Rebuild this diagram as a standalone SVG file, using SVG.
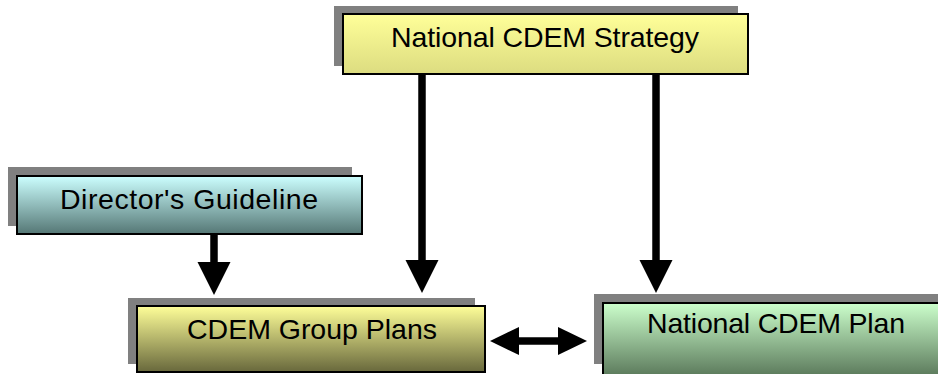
<svg xmlns="http://www.w3.org/2000/svg" width="938" height="374" viewBox="0 0 938 374">
  <style>
    .shadow { fill: #808080; }
    .box { stroke: #000000; stroke-width: 2; }
    .label { font-family: "Liberation Sans", Arial, sans-serif; font-size: 28.5px; fill: #000000; text-anchor: middle; }
    .shaft { stroke: #000000; stroke-width: 7.5; fill: none; }
  </style>
  <defs>
    <linearGradient id="gYellow" x1="0" y1="0" x2="0" y2="1">
      <stop offset="0" stop-color="#FFFF99"/>
      <stop offset="1" stop-color="#DCDC80"/>
    </linearGradient>
    <linearGradient id="gCyan" x1="0" y1="0" x2="0" y2="1">
      <stop offset="0" stop-color="#CCFFFF"/>
      <stop offset="1" stop-color="#557775"/>
    </linearGradient>
    <linearGradient id="gOlive" x1="0" y1="0" x2="0" y2="1">
      <stop offset="0" stop-color="#FFFF99"/>
      <stop offset="1" stop-color="#68683C"/>
    </linearGradient>
    <linearGradient id="gGreen" x1="0" y1="0" x2="0" y2="1">
      <stop offset="0" stop-color="#CCFFCC"/>
      <stop offset="1" stop-color="#5A785A"/>
    </linearGradient>
    <marker id="headV" markerUnits="userSpaceOnUse" markerWidth="34" markerHeight="34" refX="1" refY="16.5" orient="auto" viewBox="0 0 34 34">
      <path d="M0,0 L33,16.5 L0,33 Z" fill="#000000"/>
    </marker>
    <marker id="headH" markerUnits="userSpaceOnUse" markerWidth="30" markerHeight="30" refX="1" refY="14" orient="auto-start-reverse" viewBox="0 0 30 30">
      <path d="M0,0 L29,14 L0,28 Z" fill="#000000"/>
    </marker>
  </defs>

  <g id="connectors">
    <line class="shaft" x1="422" y1="74" x2="422" y2="261" stroke-linecap="round" marker-end="url(#headV)"/>
    <line class="shaft" x1="656" y1="74" x2="656" y2="261" stroke-linecap="round" marker-end="url(#headV)"/>
    <line class="shaft" x1="214" y1="235" x2="214" y2="263" marker-end="url(#headV)"/>
    <line class="shaft" x1="518" y1="341" x2="559" y2="341" stroke-width="6.5" marker-start="url(#headH)" marker-end="url(#headH)"/>
  </g>

  <g id="national-cdem-strategy">
    <rect class="shadow" x="334" y="6" width="404" height="60"/>
    <rect class="box" x="343" y="14" width="405" height="60" fill="url(#gYellow)"/>
    <text class="label" x="545" y="47" textLength="308" lengthAdjust="spacing">National CDEM Strategy</text>
  </g>

  <g id="directors-guideline">
    <rect class="shadow" x="8" y="167" width="344" height="59"/>
    <rect class="box" x="17" y="176" width="345" height="58" fill="url(#gCyan)"/>
    <text class="label" x="189" y="209" textLength="258" lengthAdjust="spacing">Director's Guideline</text>
  </g>

  <g id="cdem-group-plans">
    <rect class="shadow" x="128" y="298" width="347" height="66"/>
    <rect class="box" x="137" y="306" width="348" height="66" fill="url(#gOlive)"/>
    <text class="label" x="312" y="339" textLength="250" lengthAdjust="spacing">CDEM Group Plans</text>
  </g>

  <g id="national-cdem-plan">
    <rect class="shadow" x="594" y="294" width="350" height="70"/>
    <rect class="box" x="603" y="303" width="346" height="74" fill="url(#gGreen)"/>
    <text class="label" x="776" y="333" textLength="258" lengthAdjust="spacing">National CDEM Plan</text>
  </g>
</svg>
